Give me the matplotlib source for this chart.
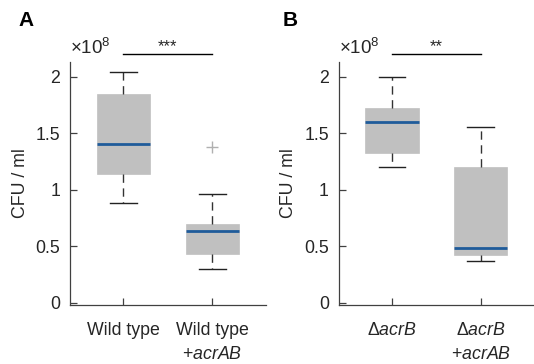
import numpy as np
import matplotlib
matplotlib.use('Agg')
import matplotlib.pyplot as plt

plt.rcParams['font.family'] = ['Liberation Sans', 'DejaVu Sans']
plt.rcParams['mathtext.fontset'] = 'custom'
plt.rcParams['mathtext.rm'] = 'Liberation Sans'
plt.rcParams['mathtext.it'] = 'Liberation Sans:italic'

# box statistics, in units of 1e8 CFU/ml
labels_a = ['Wild type', 'Wild type\n+$\\it{acrAB}$']
whislo_a = [0.88, 0.30]
q1_a = [1.14, 0.435]
med_a = [1.40, 0.635]
q3_a = [1.85, 0.70]
whishi_a = [2.04, 0.96]
fliers_a = [[], [1.38]]
sig_a = '***'

labels_b = ['$\\Delta\\it{acrB}$', '$\\Delta\\it{acrB}$\n+$\\it{acrAB}$']
whislo_b = [1.20, 0.365]
q1_b = [1.32, 0.42]
med_b = [1.60, 0.485]
q3_b = [1.72, 1.20]
whishi_b = [2.00, 1.555]
fliers_b = [[], []]
sig_b = '**'

yticks = [0, 0.5, 1, 1.5, 2]
ytick_labels = ['0', '0.5', '1', '1.5', '2']

axcol = '#404040'
txtcol = '#262626'
fs = 12.8

fig = plt.figure(figsize=(5.34, 3.64), dpi=100)
axA = fig.add_axes([0.131, 0.162, 0.367, 0.668])
axB = fig.add_axes([0.634, 0.162, 0.366, 0.668])


def draw_panel(ax, labels, wlo, q1, med, q3, whi, fl, sig):
    stats = []
    for i in range(len(labels)):
        stats.append({'whislo': wlo[i], 'q1': q1[i], 'med': med[i], 'q3': q3[i],
                      'whishi': whi[i], 'fliers': fl[i]})
    ax.bxp(stats, positions=[1, 2], widths=0.6, patch_artist=True,
           showfliers=True,
           boxprops=dict(facecolor='#c0c0c0', edgecolor='#c0c0c0', linewidth=0.5),
           medianprops=dict(color='#1f5b9a', linewidth=2),
           whiskerprops=dict(color='#333333', linewidth=1, linestyle=(0, (6, 4))),
           capprops=dict(color='#222222', linewidth=1),
           capwidths=0.3,
           flierprops=dict(marker='+', markeredgecolor='#b0b0b0', markersize=8,
                           markeredgewidth=1))
    ax.set_xlim(0.4, 2.6)
    ax.set_ylim(-0.02, 2.13)
    ax.set_yticks(yticks)
    ax.set_yticklabels(ytick_labels)
    ax.set_xticks([1, 2])
    ax.set_xticklabels(labels, linespacing=1.6)
    for s in ['top', 'right']:
        ax.spines[s].set_visible(False)
    for s in ['left', 'bottom']:
        ax.spines[s].set_color(axcol)
        ax.spines[s].set_linewidth(0.9)
    ax.tick_params(direction='in', length=5, width=0.9, color=axcol,
                   labelsize=fs, labelcolor=txtcol, pad=7)
    ax.tick_params(axis='x', pad=12)
    ax.set_ylabel('CFU / ml', fontsize=fs, color=txtcol, labelpad=5)
    ax.text(0.0, 1.015, '$\\times10^{8}$', transform=ax.transAxes, fontsize=13.5,
            color=txtcol, ha='left', va='bottom')
    ax.plot([1, 2], [2.198, 2.198], color='black', linewidth=1, clip_on=False)
    ax.text(1.5, 2.195, sig, ha='center', va='bottom', fontsize=12, color=txtcol)


draw_panel(axA, labels_a, whislo_a, q1_a, med_a, q3_a, whishi_a, fliers_a, sig_a)
draw_panel(axB, labels_b, whislo_b, q1_b, med_b, q3_b, whishi_b, fliers_b, sig_b)

fig.text(18 / 534, 1 - 26 / 364, 'A', fontsize=15, fontweight='bold')
fig.text(283 / 534, 1 - 26 / 364, 'B', fontsize=15, fontweight='bold')

fig.savefig('out.png', dpi=100)
